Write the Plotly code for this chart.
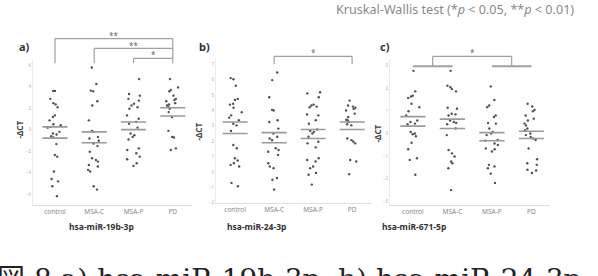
import plotly.graph_objects as go

W, H = 598, 276

categories = ["control", "MSA-C", "MSA-P", "PD"]

# Panel a) hsa-miR-19b-3p  (-dCT values)
a_control = [3.6, 3.6, 2.86, 2.46, 2.33, 2.09, 1.32, 1.17, 0.86, 0.49, 0.4, 0.25, 0.18, -0.21,
             -0.37, -0.46, -0.61, -0.74, -1.35, -2.37, -2.52, -3.9, -4.6, -4.82, -5.28, -6.2]
a_msac = [5.78, 4.24, 3.63, 3.56, 2.64, 2.24, 0.86, -0.12, -0.21, -0.68, -0.83, -1.04, -1.29,
          -1.54, -2.06, -2.67, -2.83, -2.98, -3.29, -3.44, -3.75, -3.9, -5.28, -5.59]
a_msap = [4.7, 3.32, 3.16, 2.86, 2.7, 2.4, 2.24, 2.09, 1.94, 1.32, 1.01, 0.71, 0.55, 0.18, -0.37,
          -0.52, -0.68, -0.92, -1.75, -1.9, -2.21, -2.52, -2.76, -3.13, -3.38]
a_pd = [4.7, 3.93, 3.69, 3.56, 3.16, 2.86, 2.76, 2.64, 2.46, 2.33, 2.24, 2.09, 1.94, 1.63, 1.17,
        -0.12, -0.68, -0.74, -1.75, -1.9]
a_upper = [0.25, -0.21, 0.71, 2.03]
a_lower = [-0.8, -1.23, 0.0, 1.26]

# Panel b) hsa-miR-24-3p
b_control = [6.1, 6.03, 5.6, 4.75, 4.68, 4.43, 4.38, 4.17, 3.89, 3.68, 3.53, 3.36, 3.14, 3.03,
             2.67, 1.75, 1.54, 0.89, 0.75, 0.57, 0.46, 0.36, -0.71, -0.93]
b_msac = [6.47, 5.97, 4.86, 4.04, 4.0, 3.36, 3.25, 2.82, 2.5, 2.29, 2.18, 2.07, 1.54, 1.43, 1.32,
          1.11, 0.57, 0.36, 0.25, -0.39, -0.5, -1.14]
b_msap = [5.18, 5.11, 4.86, 4.38, 4.32, 4.25, 4.21, 3.74, 3.68, 3.36, 3.14, 2.76, 2.67, 2.61, 2.5,
          2.29, 1.97, 1.86, 1.6, 0.89, 0.78, 0.68, 0.36, 0.25, -0.07, -0.18, -0.82]
b_pd = [4.64, 4.32, 4.25, 4.17, 4.1, 4.0, 3.79, 3.57, 3.4, 3.36, 3.25, 3.1, 3.03, 2.18, 2.07, 1.97,
        1.86, 0.78, 0.68, -0.14]
b_upper = [3.25, 2.56, 2.76, 3.25]
b_lower = [2.5, 1.9, 2.18, 2.76]

# Panel c) hsa-miR-671-5p
c_control = [2.78, 1.87, 1.68, 1.64, 1.58, 1.32, 1.17, 0.99, 0.8, 0.58, 0.51, 0.44, 0.41, 0.07, 0.0,
             -0.03, -0.12, -0.41, -0.7, -1.1, -1.17, -1.83]
c_msac = [2.78, 2.12, 2.05, 1.97, 1.87, 1.14, 1.1, 0.88, 0.85, 0.8, 0.58, 0.51, 0.47, 0.41, 0.22,
          -0.07, -0.73, -0.88, -1.02, -1.24, -1.32, -1.54, -2.51]
c_msap = [2.09, 1.49, 1.24, 1.17, 0.8, 0.73, 0.47, 0.44, 0.22, 0.07, 0.0, -0.07, -0.29, -0.32, -0.44,
          -0.51, -0.66, -0.7, -0.8, -1.39, -1.46, -1.54, -1.78, -2.19]
c_pd = [1.32, 1.2, 1.05, 0.99, 0.8, 0.66, 0.58, 0.44, 0.36, 0.22, 0.15, 0.0, -0.07, -0.15, -0.22,
        -0.29, -0.66, -1.14, -1.32, -1.39, -1.61, -1.64, -1.75]
c_upper = [0.75, 0.64, 0.04, 0.1]
c_lower = [0.33, 0.22, -0.32, -0.22]

a_ticks = [-6, -4, -2, 0, 2, 4, 6]
b_ticks = [-2, -1, 0, 1, 2, 3, 4, 5, 6, 7]
c_ticks = [-3, -2, -1, 0, 1, 2, 3]

panel_titles = ["hsa-miR-19b-3p", "hsa-miR-24-3p", "hsa-miR-671-5p"]
panel_letters = ["a)", "b)", "c)"]
ytitle = "-ΔCT"
note = "Kruskal-Wallis test (*<i>p</i> < 0.05, **<i>p</i> < 0.01)"
caption = "図 8 a) hsa-miR-19b-3p, b) hsa-miR-24-3p, c) hsa-miR-671-5p"


def px(x):
    return x / W


def py(y):
    return 1 - y / H


panels = [
    dict(groups=[a_control, a_msac, a_msap, a_pd], up=a_upper, lo=a_lower, ticks=a_ticks,
         xd=(33, 192), yd=(60, 207), xr=(-0.56, 3.49), yr=(-7.0, 6.54)),
    dict(groups=[b_control, b_msac, b_msap, b_pd], up=b_upper, lo=b_lower, ticks=b_ticks,
         xd=(216, 372), yd=(60, 205), xr=(-0.49, 3.51), yr=(-2.0, 7.32)),
    dict(groups=[c_control, c_msac, c_msap, c_pd], up=c_upper, lo=c_lower, ticks=c_ticks,
         xd=(390, 550), yd=(60, 207), xr=(-0.58, 3.47), yr=(-3.16, 3.29)),
]

fig = go.Figure()
layout = dict(width=W, height=H, margin=dict(l=0, r=0, t=0, b=0),
              paper_bgcolor="white", plot_bgcolor="white", showlegend=False,
              boxmode="overlay", font=dict(family="Noto Sans, DejaVu Sans, sans-serif"))

for k, p in enumerate(panels):
    n = "" if k == 0 else str(k + 1)
    xa, ya = "x" + n, "y" + n
    xs, ys = [], []
    for i, g in enumerate(p["groups"]):
        xs += [i] * len(g)
        ys += g
    fig.add_trace(go.Box(x=xs, y=ys, xaxis=xa, yaxis=ya, boxpoints="all", jitter=0.55,
                         pointpos=0, line=dict(color="rgba(0,0,0,0)", width=0),
                         fillcolor="rgba(0,0,0,0)", width=0.7,
                         marker=dict(color="#505050", size=2.4), hoverinfo="skip"))
    lx, ly = [], []
    for i in range(4):
        for v in (p["up"][i], p["lo"][i]):
            lx += [i - 0.32, i + 0.32, None]
            ly += [v, v, None]
    fig.add_trace(go.Scatter(x=lx, y=ly, xaxis=xa, yaxis=ya, mode="lines",
                             line=dict(color="#9a9a9a", width=1.6), hoverinfo="skip"))
    layout["xaxis" + n] = dict(domain=[px(p["xd"][0]), px(p["xd"][1])], range=list(p["xr"]),
                               anchor=ya, tickvals=[0, 1, 2, 3], ticktext=categories,
                               showline=True, linecolor="#e0e0e0", linewidth=1,
                               showgrid=False, zeroline=False, ticks="",
                               tickfont=dict(size=6.5, color="#8a8a8a"))
    layout["yaxis" + n] = dict(domain=[py(p["yd"][1]), py(p["yd"][0])], range=list(p["yr"]),
                               anchor=xa, tickvals=p["ticks"], showline=True,
                               linecolor="#ececec", linewidth=1, showgrid=False,
                               zeroline=False, ticks="",
                               tickfont=dict(size=4.5, color="#b0b0b0"))

shapes = []
annotations = []
gray = "#a0a0a0"


def seg(xref, x0, y0, x1, y1, w=1.2, c=gray):
    shapes.append(dict(type="line", xref=xref, yref="paper", x0=x0, x1=x1,
                       y0=py(y0), y1=py(y1), line=dict(color=c, width=w)))


def star(xref, x, y, t):
    annotations.append(dict(xref=xref, yref="paper", x=x, y=py(y), text=t, showarrow=False,
                            font=dict(size=8, color="#666"), xanchor="center", yanchor="middle"))


# panel a brackets
seg("x", 0, 64, 0, 39); seg("x", 0, 39, 3, 39); seg("x", 3, 39, 3, 64)
seg("x", 1, 64, 1, 49); seg("x", 1, 49, 3, 49)
seg("x", 2, 64, 2, 59); seg("x", 2, 59, 3, 59)
star("x", 1.5, 36, "**"); star("x", 2.0, 46, "**"); star("x", 2.5, 55, "*")
# panel b bracket
seg("x2", 1, 65, 1, 57); seg("x2", 1, 57, 3, 57); seg("x2", 3, 57, 3, 65)
star("x2", 2.0, 53, "*")
# panel c bracket
seg("x3", 0, 67, 1, 67, w=2); seg("x3", 2, 67, 3, 67, w=2)
seg("x3", 0.5, 67, 0.5, 57); seg("x3", 0.5, 57, 2.5, 57); seg("x3", 2.5, 57, 2.5, 67)
star("x3", 1.5, 53, "*")

title_x = [101, 256, 414]
letter_x = [17, 197, 378]
ytitle_x = [20, 199, 378]
ytitle_y = [131, 133, 135]
for k in range(3):
    annotations.append(dict(xref="paper", yref="paper", x=px(title_x[k]), y=py(229),
                            text="<b>" + panel_titles[k] + "</b>", showarrow=False,
                            font=dict(size=8.5, color="#333"), xanchor="center", yanchor="middle"))
    annotations.append(dict(xref="paper", yref="paper", x=px(letter_x[k]), y=py(47),
                            text="<b>" + panel_letters[k] + "</b>", showarrow=False,
                            font=dict(size=11, color="#333"), xanchor="left", yanchor="middle"))
    annotations.append(dict(xref="paper", yref="paper", x=px(ytitle_x[k]), y=py(ytitle_y[k]),
                            text="<b>" + ytitle + "</b>", showarrow=False, textangle=-90,
                            font=dict(size=8, color="#444"), xanchor="center", yanchor="middle"))

annotations.append(dict(xref="paper", yref="paper", x=px(334), y=py(10), text=note,
                        showarrow=False, font=dict(size=12.6, color="#8a8a8a"),
                        xanchor="left", yanchor="middle"))
annotations.append(dict(xref="paper", yref="paper", x=px(-5), y=py(264), text=caption,
                        showarrow=False,
                        font=dict(size=28, color="#222",
                                  family="DejaVu Serif, Noto Sans CJK JP, serif"),
                        xanchor="left", yanchor="top"))

layout["shapes"] = shapes
layout["annotations"] = annotations
fig.update_layout(**layout)
fig.write_html("out.html")
